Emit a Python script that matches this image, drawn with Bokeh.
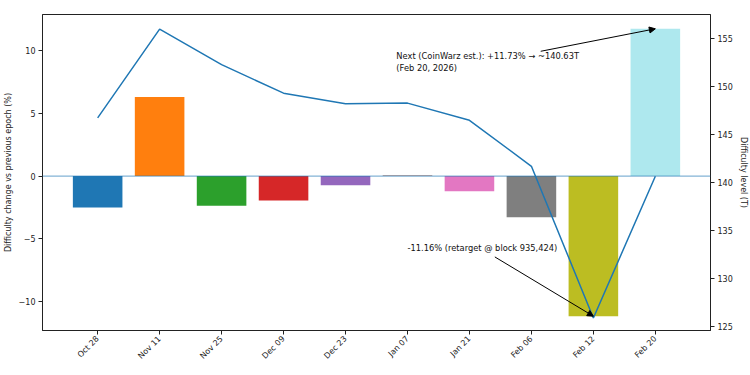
from math import pi
from bokeh.plotting import figure
from bokeh.models import (Range1d, LinearAxis, Arrow, NormalHead, Label,
                          FixedTicker, ColumnDataSource, Span)
from bokeh.embed import file_html
from bokeh.resources import INLINE

# ---- data ----
dates = ["Oct 28", "Nov 11", "Nov 25", "Dec 09", "Dec 23",
         "Jan 07", "Jan 21", "Feb 06", "Feb 12", "Feb 20"]
changes = [-2.50, 6.30, -2.37, -1.95, -0.74, 0.04, -1.21, -3.28, -11.16, 11.73]
levels = [146.72, 155.97, 152.27, 149.30, 148.20, 148.26, 146.47, 141.67, 125.86, 140.63]
bar_colors = ["#1f77b4", "#ff7f0e", "#2ca02c", "#d62728", "#9467bd",
              "#8c564b", "#e377c2", "#7f7f7f", "#bcbd22", "#17becf"]
bar_alphas = [1, 1, 1, 1, 1, 1, 1, 1, 1, 0.35]
left_ticks = [-10, -5, 0, 5, 10]
right_ticks = [125, 130, 135, 140, 145, 150, 155]

note_next = "Next (CoinWarz est.): +11.73% \u2192 ~140.63T\n(Feb 20, 2026)"
note_drop = "-11.16% (retarget @ block 935,424)"

xs = list(range(len(dates)))
src = ColumnDataSource(dict(x=xs, change=changes, level=levels,
                            color=bar_colors, alpha=bar_alphas))

FONT = "DejaVu Sans"
FS = "8px"
FS_NOTE = "8.3px"

p = figure(width=750, height=375, output_backend="svg", toolbar_location=None,
           x_range=Range1d(-0.89, 9.89), y_range=Range1d(-12.3, 12.87),
           min_border_left=42, min_border_right=38, min_border_top=14,
           min_border_bottom=45)
p.extra_y_ranges = {"level": Range1d(124.55, 157.5)}
p.grid.visible = False
p.outline_line_color = "#222222"
p.outline_line_width = 1
p.background_fill_color = "white"
p.border_fill_color = "white"

p.vbar(x="x", top="change", bottom=0, width=0.8, source=src,
       fill_color="color", fill_alpha="alpha", line_color=None)

p.add_layout(Span(location=0, dimension="width", line_color="#1f77b4",
                  line_alpha=0.55, line_width=1.2))

p.line(x="x", y="level", source=src, y_range_name="level",
       line_color="#1f77b4", line_width=1.5)

right = LinearAxis(y_range_name="level")
p.add_layout(right, "right")

p.xaxis.ticker = FixedTicker(ticks=xs)
p.xaxis.major_label_overrides = {i: d for i, d in enumerate(dates)}
p.xaxis.major_label_orientation = pi / 4
p.yaxis[0].ticker = FixedTicker(ticks=left_ticks)
p.yaxis[0].major_label_overrides = {t: (str(t).replace("-", "\u2212")) for t in left_ticks}
p.yaxis[0].axis_label = "Difficulty change vs previous epoch (%)"
right.ticker = FixedTicker(ticks=right_ticks)
right.axis_label = "Difficulty level (T)"

for ax in p.xaxis + p.yaxis:
    ax.axis_line_color = "#222222"
    ax.major_tick_line_color = "#222222"
    ax.minor_tick_line_color = None
    ax.major_tick_out = 4
    ax.major_tick_in = 0
    ax.major_label_text_font = FONT
    ax.major_label_text_font_size = FS
    ax.major_label_text_color = "#222222"
    ax.axis_label_text_font = FONT
    ax.axis_label_text_font_size = FS
    ax.axis_label_text_font_style = "normal"
    ax.axis_label_text_color = "#222222"
    ax.major_label_standoff = 3
    ax.axis_label_standoff = 3

# annotations
p.add_layout(Arrow(end=NormalHead(size=6, fill_color="black", line_color="black"),
                   x_start=7.15, y_start=9.94, x_end=xs[9], y_end=changes[9],
                   line_color="black", line_width=1))
p.add_layout(Label(x=4.82, y=9.95, text=note_next, text_font=FONT,
                   text_font_size=FS_NOTE, text_baseline="top", text_color="#111111"))
p.add_layout(Arrow(end=NormalHead(size=6, fill_color="black", line_color="black"),
                   x_start=6.41, y_start=-6.44, x_end=xs[8], y_end=changes[8],
                   line_color="black", line_width=1))
p.add_layout(Label(x=5.0, y=-5.73, text=note_drop, text_font=FONT,
                   text_font_size=FS_NOTE, text_baseline="middle", text_color="#111111"))

open("out.html", "w").write(file_html(p, INLINE))
